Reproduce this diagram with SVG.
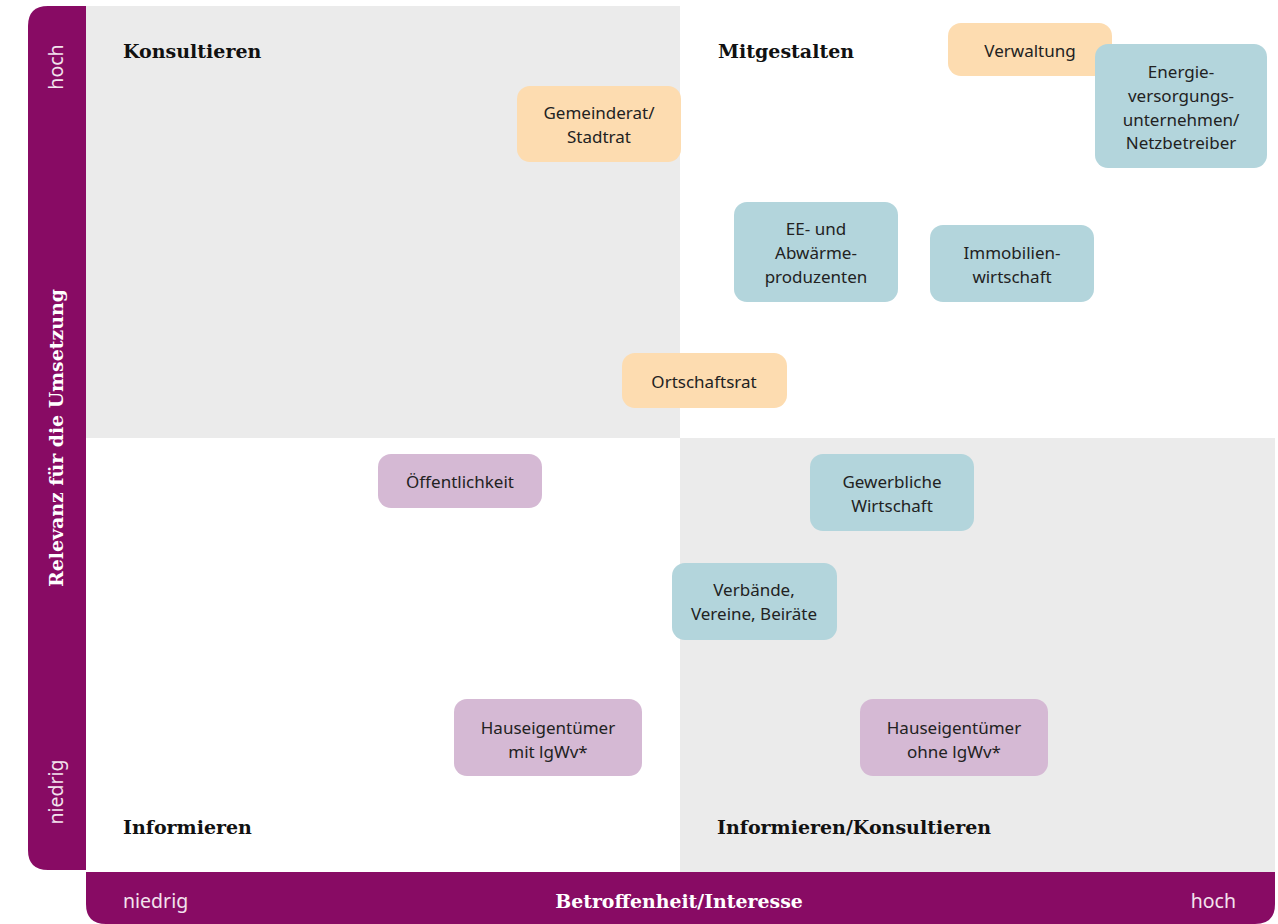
<svg xmlns="http://www.w3.org/2000/svg" width="1278" height="924" viewBox="0 0 1278 924">
<style>
.bar{fill:#880b64}
.gray{fill:#ebebeb}
.head{font-family:"DejaVu Serif","Liberation Serif",serif;font-weight:bold;font-size:19px;fill:#111}
.axl{font-family:"Noto Sans",Lato,sans-serif;font-size:19.5px;fill:#f3e3ee}
.axt{font-family:"DejaVu Serif","Liberation Serif",serif;font-weight:bold;font-size:18.9px;fill:#fff}
.n{font-family:"Noto Sans",Lato,sans-serif;font-size:17px;fill:#222;text-anchor:middle}
.or{fill:#fddcb0}
.bl{fill:#b3d5dc}
.pu{fill:#d5b9d4}
</style>
<rect width="1278" height="924" fill="#fff"/>
<g id="quadrants">
<rect class="gray" x="86" y="6" width="594" height="432"/>
<rect class="gray" x="680" y="438" width="595" height="434"/>
</g>
<g id="axis-y">
<path class="bar" d="M48 6 H86 V870 H48 Q28 870 28 850 V26 Q28 6 48 6 Z"/>
<text class="axl" transform="translate(63 67) rotate(-90)" text-anchor="middle">hoch</text>
<text class="axl" transform="translate(63 792) rotate(-90)" text-anchor="middle">niedrig</text>
<text class="axt" transform="translate(63 438) rotate(-90)" text-anchor="middle">Relevanz für die Umsetzung</text>
</g>
<g id="axis-x">
<path class="bar" d="M86 872 H1275 V904 Q1275 924 1255 924 H106 Q86 924 86 904 Z"/>
<text class="axl" x="123" y="908">niedrig</text>
<text class="axt" x="679" y="908" text-anchor="middle">Betroffenheit/Interesse</text>
<text class="axl" x="1236" y="908" text-anchor="end">hoch</text>
</g>
<g id="labels">
<text class="head" x="123" y="58">Konsultieren</text>
<text class="head" x="718" y="58">Mitgestalten</text>
<text class="head" x="123" y="834">Informieren</text>
<text class="head" x="717" y="834">Informieren/Konsultieren</text>
</g>
<g id="connectors"></g>
<g id="n-gemeinderat"><rect class="or" x="517" y="86" width="164" height="76" rx="13"/><text class="n" x="599" y="119">Gemeinderat/</text><text class="n" x="599" y="143">Stadtrat</text></g>
<g id="n-verwaltung"><rect class="or" x="948" y="23" width="164" height="53" rx="13"/><text class="n" x="1030" y="57">Verwaltung</text></g>
<g id="n-energie"><rect class="bl" x="1095" y="44" width="172" height="124" rx="13"/><text class="n" x="1181" y="78">Energie-</text><text class="n" x="1181" y="102">versorgungs-</text><text class="n" x="1181" y="126">unternehmen/</text><text class="n" x="1181" y="149">Netzbetreiber</text></g>
<g id="n-ee"><rect class="bl" x="734" y="202" width="164" height="100" rx="13"/><text class="n" x="816" y="235">EE- und</text><text class="n" x="816" y="259">Abwärme-</text><text class="n" x="816" y="283">produzenten</text></g>
<g id="n-immobilien"><rect class="bl" x="930" y="225" width="164" height="77" rx="13"/><text class="n" x="1012" y="259">Immobilien-</text><text class="n" x="1012" y="283">wirtschaft</text></g>
<g id="n-ortschaftsrat"><rect class="or" x="622" y="353" width="165" height="55" rx="13"/><text class="n" x="704" y="388">Ortschaftsrat</text></g>
<g id="n-oeffentlichkeit"><rect class="pu" x="378" y="454" width="164" height="54" rx="13"/><text class="n" x="460" y="488">Öffentlichkeit</text></g>
<g id="n-gewerbe"><rect class="bl" x="810" y="454" width="164" height="77" rx="13"/><text class="n" x="892" y="488">Gewerbliche</text><text class="n" x="892" y="512">Wirtschaft</text></g>
<g id="n-verbaende"><rect class="bl" x="672" y="563" width="165" height="77" rx="13"/><text class="n" x="754" y="596">Verbände,</text><text class="n" x="754" y="620">Vereine, Beiräte</text></g>
<g id="n-haus-mit"><rect class="pu" x="454" y="699" width="188" height="77" rx="13"/><text class="n" x="548" y="734">Hauseigentümer</text><text class="n" x="548" y="758">mit lgWv*</text></g>
<g id="n-haus-ohne"><rect class="pu" x="860" y="699" width="188" height="77" rx="13"/><text class="n" x="954" y="734">Hauseigentümer</text><text class="n" x="954" y="758">ohne lgWv*</text></g>
</svg>
